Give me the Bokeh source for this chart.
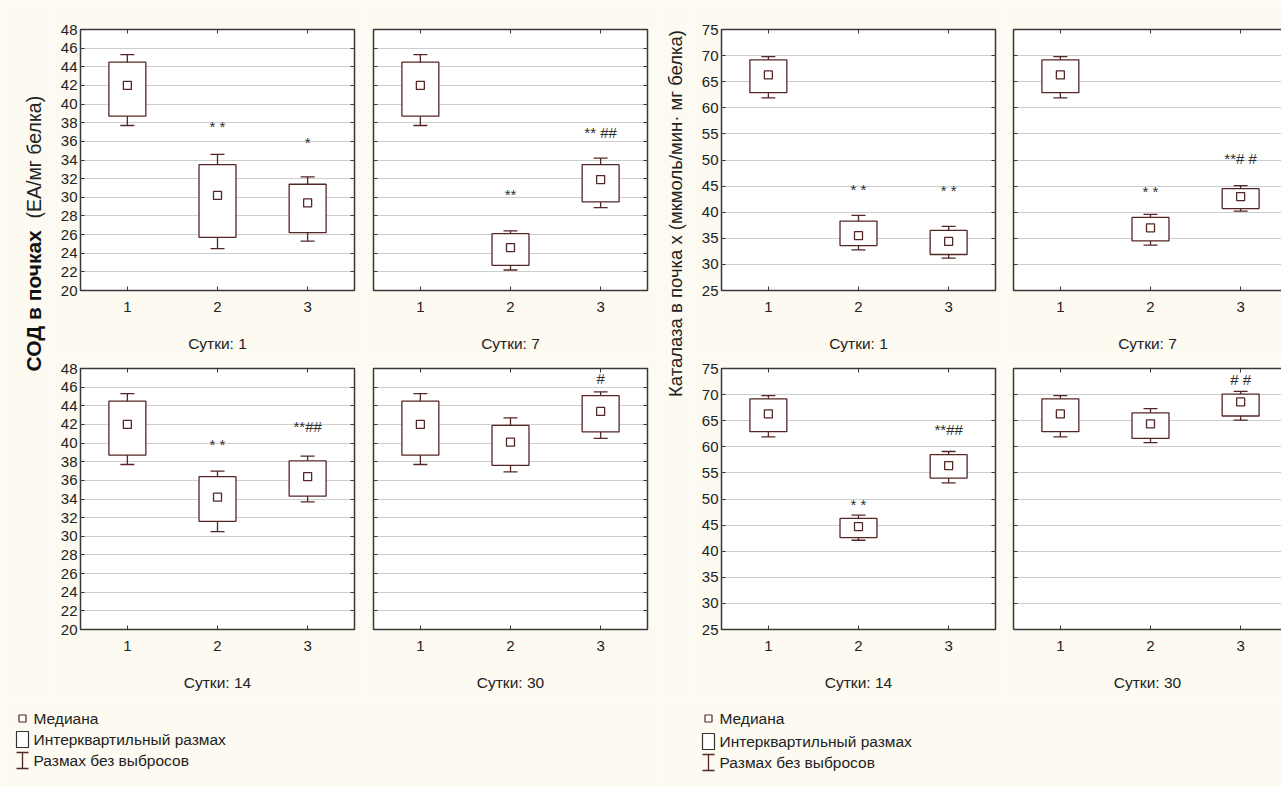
import math
from bokeh.plotting import figure
from bokeh.layouts import row, column
from bokeh.models import Range1d, FixedTicker, LinearAxis, CustomJSTickFormatter, Label
from bokeh.core.properties import value
from bokeh.embed import file_html
from bokeh.resources import INLINE

# ---------------- data ----------------
days = ["1", "7", "14", "30"]
groups = [1, 2, 3]

sod_low  = [[37.7, 24.5, 25.3], [37.7, 22.2, 28.9], [37.7, 30.5, 33.7], [37.7, 36.9, 40.5]]
sod_q1   = [[38.7, 25.7, 26.2], [38.7, 22.7, 29.5], [38.7, 31.6, 34.3], [38.7, 37.6, 41.2]]
sod_med  = [[42.0, 30.2, 29.4], [42.0, 24.6, 31.9], [42.0, 34.2, 36.4], [42.0, 40.1, 43.4]]
sod_q3   = [[44.5, 33.5, 31.4], [44.5, 26.1, 33.5], [44.5, 36.4, 38.1], [44.5, 41.9, 45.1]]
sod_high = [[45.3, 34.6, 32.2], [45.3, 26.4, 34.2], [45.3, 37.0, 38.6], [45.3, 42.7, 45.5]]
sod_marks  = [["", "* *", "*"], ["", "**", "** ##"], ["", "* *", "**##"], ["", "", "#"]]
sod_mark_y = [[0, 37.6, 35.9], [0, 30.3, 36.9], [0, 39.8, 41.8], [0, 0, 46.9]]

cat_low  = [[61.9, 32.8, 31.2], [61.9, 33.7, 40.2], [61.9, 42.1, 53.1], [61.9, 60.8, 65.1]]
cat_q1   = [[62.9, 33.6, 31.9], [62.9, 34.5, 40.7], [62.9, 42.6, 54.0], [62.9, 61.6, 65.9]]
cat_med  = [[66.3, 35.5, 34.4], [66.3, 37.0, 43.0], [66.3, 44.7, 56.4], [66.3, 64.4, 68.6]]
cat_q3   = [[69.2, 38.3, 36.5], [69.2, 39.0, 44.5], [69.2, 46.3, 58.5], [69.2, 66.5, 70.1]]
cat_high = [[69.8, 39.4, 37.3], [69.8, 39.6, 45.1], [69.8, 46.9, 59.1], [69.8, 67.3, 70.6]]
cat_marks  = [["", "* *", "* *"], ["", "* *", "**# #"], ["", "* *", "**##"], ["", "", "# #"]]
cat_mark_y = [[0, 44.4, 44.1], [0, 44.0, 50.3], [0, 49.0, 63.3], [0, 0, 72.8]]

sod_range = (20, 48, 2)
cat_range = (25, 75, 5)

sod_title_bold = "СОД в почках"
sod_title_unit = "(ЕА/мг белка)"
cat_title = "Каталаза в почка х (мкмоль/мин· мг белка)"
legend_labels = ["Медиана", "Интерквартильный размах", "Размах без выбросов"]

# ---------------- styling ----------------
BG = "#fcfaf1"
BOX = "#552626"
FRAME = "#383838"
GRID = "#cdcdcd"
TXT = "#222222"
FONT = "Liberation Sans"
PX_PER_UNIT = 274 / 3.04
GRID_H = 700      # height of the two panel rows
LEG_H = 86        # height of the legend strip


def empty_fmt():
    return CustomJSTickFormatter(code="return ''")


def make_panel(low, q1, med, q3, high, marks, marky, day, yr, w, h, bl, br, bt, bb,
               ylabels=True, cropped=False):
    y0, y1, ystep = yr
    yticks = list(range(y0, y1 + 1, ystep))
    frame_w = w - bl - br
    xend = 0.48 + frame_w / PX_PER_UNIT
    p = figure(width=w, height=h, x_range=Range1d(0.48, xend), y_range=Range1d(y0, y1),
               output_backend="svg", toolbar_location=None,
               min_border_left=bl, min_border_right=br, min_border_top=bt, min_border_bottom=bb,
               background_fill_color="white", border_fill_color=BG)
    p.xgrid.visible = False
    p.ygrid.grid_line_color = GRID
    p.ygrid.grid_line_width = 1

    if cropped:
        p.outline_line_color = None
    else:
        p.outline_line_color = FRAME
        p.outline_line_width = 1.5

    xa = p.xaxis[0]
    xa.ticker = FixedTicker(ticks=groups, minor_ticks=[])
    xa.axis_label = "Сутки: " + day
    xa.axis_label_text_font = FONT
    xa.axis_label_text_font_size = "15.5px"
    xa.axis_label_text_font_style = "normal"
    xa.axis_label_text_color = TXT
    xa.axis_label_standoff = 20
    xa.major_label_standoff = 11
    xa.major_label_text_font = FONT
    xa.major_label_text_font_size = "15px"
    xa.major_label_text_color = TXT
    xa.major_tick_in = 4
    xa.major_tick_out = 0
    xa.major_tick_line_color = FRAME
    xa.minor_tick_line_color = None
    xa.axis_line_color = FRAME if cropped else None
    xa.axis_line_width = 1.5

    ya = p.yaxis[0]
    ya.ticker = FixedTicker(ticks=yticks, minor_ticks=[])
    ya.major_tick_in = 4
    ya.major_tick_out = 0
    ya.major_tick_line_color = FRAME
    ya.minor_tick_line_color = None
    ya.axis_line_color = FRAME if cropped else None
    ya.axis_line_width = 1.5
    ya.major_label_text_font = FONT
    ya.major_label_text_font_size = "15px"
    ya.major_label_text_color = TXT
    if ylabels:
        ya.major_label_standoff = 3
    else:
        ya.formatter = empty_fmt()
        ya.major_label_standoff = 0
        ya.major_label_text_font_size = "1px"

    ta = LinearAxis(ticker=FixedTicker(ticks=groups, minor_ticks=[]), formatter=empty_fmt(),
                    major_tick_in=4, major_tick_out=0, major_tick_line_color=FRAME,
                    minor_tick_line_color=None, major_label_standoff=0,
                    major_label_text_font_size="1px",
                    axis_line_color=FRAME if cropped else None, axis_line_width=1.5)
    p.add_layout(ta, "above")
    if not cropped:
        ra = LinearAxis(ticker=FixedTicker(ticks=yticks, minor_ticks=[]), formatter=empty_fmt(),
                        major_tick_in=4, major_tick_out=0, major_tick_line_color=FRAME,
                        minor_tick_line_color=None, major_label_standoff=0,
                        major_label_text_font_size="1px", axis_line_color=None)
        p.add_layout(ra, "right")

    # whiskers, boxes, caps, medians
    p.segment(x0=groups, y0=low, x1=groups, y1=high, line_color=BOX, line_width=1.3)
    p.vbar(x=groups, width=0.41, bottom=q1, top=q3, fill_color="white",
           line_color=BOX, line_width=1.3)
    p.scatter(x=groups, y=high, marker="dash", size=14, line_color=BOX, line_width=1.3)
    p.scatter(x=groups, y=low, marker="dash", size=14, line_color=BOX, line_width=1.3)
    p.scatter(x=groups, y=med, marker="square", size=8, fill_color="white",
              line_color=BOX, line_width=1.3)

    mx = [g for g, m in zip(groups, marks) if m]
    my = [v for v, m in zip(marky, marks) if m]
    mt = [m for m in marks if m]
    if mt:
        p.text(x=mx, y=my, text=mt, text_align="center", text_baseline="middle",
               text_font=value(FONT), text_font_size="15px", text_color="#2e2e2e")
    return p


def blank(w, h):
    p = figure(width=w, height=h, x_range=Range1d(0, w), y_range=Range1d(0, h),
               x_axis_type=None, y_axis_type=None, output_backend="svg",
               toolbar_location=None, min_border=0,
               background_fill_color=BG, border_fill_color=BG, outline_line_color=None)
    p.grid.visible = False
    return p


def make_legend(w, sym_x, txt_x, rows_y):
    p = blank(w, LEG_H)
    ys = [LEG_H - r for r in rows_y]
    p.scatter(x=[sym_x], y=[ys[0]], marker="square", size=7, fill_color="white",
              line_color=BOX, line_width=1.2)
    p.rect(x=[sym_x], y=[ys[1]], width=12, height=16, fill_color="white",
           line_color="#333333", line_width=1.2)
    p.segment(x0=[sym_x, sym_x - 6, sym_x - 6], y0=[ys[2] - 8, ys[2] - 8, ys[2] + 8],
              x1=[sym_x, sym_x + 6, sym_x + 6], y1=[ys[2] + 8, ys[2] - 8, ys[2] + 8],
              line_color=BOX, line_width=1.3)
    p.text(x=[txt_x] * 3, y=ys, text=legend_labels, text_align="left", text_baseline="middle",
           text_font=value(FONT), text_font_size="15.5px", text_color=TXT)
    return p


def build_group(low, q1, med, q3, high, marks, marky, yr, first_bl, first_br, right_w,
                right_cropped):
    panels = []
    for k in range(4):
        r, c = divmod(k, 2)
        h = 356 if r == 0 else GRID_H - 356
        bt, bb = (29, 66) if r == 0 else (12, 71)
        if c == 0:
            w, bl, br = 314, first_bl, first_br
        else:
            w, bl, br = right_w, 9, (0 if right_cropped else 9)
        panels.append(make_panel(low[k], q1[k], med[k], q3[k], high[k], marks[k], marky[k],
                                 days[k], yr, w, h, bl, br, bt, bb,
                                 ylabels=(c == 0), cropped=(c == 1 and right_cropped)))
    return column(row(panels[0], panels[1]), row(panels[2], panels[3]))


# ---------------- left group (СОД) ----------------
labL = blank(50, GRID_H)
labL.add_layout(Label(x=33, y=GRID_H - 371, text=sod_title_bold, angle=math.pi / 2,
                      text_align="left", text_baseline="middle", text_font=FONT,
                      text_font_size="21px", text_font_style="bold", text_color="#111111"))
labL.add_layout(Label(x=33, y=GRID_H - 218, text=sod_title_unit, angle=math.pi / 2,
                      text_align="left", text_baseline="middle", text_font=FONT,
                      text_font_size="19.5px", text_color="#222222"))
gridL = build_group(sod_low, sod_q1, sod_med, sod_q3, sod_high, sod_marks, sod_mark_y,
                    sod_range, 30, 10, 292, False)
legL = make_legend(656, 22, 33, [18, 39, 60])
left = column(row(labL, gridL), legL)

# ---------------- right group (Каталаза) ----------------
labR = blank(34, GRID_H)
labR.add_layout(Label(x=19, y=GRID_H - 213, text=cat_title, angle=math.pi / 2,
                      text_align="center", text_baseline="middle", text_font=FONT,
                      text_font_size="18.5px", text_color="#222222"))
gridR = build_group(cat_low, cat_q1, cat_med, cat_q3, cat_high, cat_marks, cat_mark_y,
                    cat_range, 31, 9, 277, True)
legR = make_legend(625, 52, 63, [18, 41, 62])
right = column(row(labR, gridR), legR)

layout = row(left, right)

html = file_html(layout, INLINE, title="СОД и каталаза в почках")
html = html.replace("<body>", '<body style="background-color:#fcfaf1;">', 1)
open("out.html", "w").write(html)
